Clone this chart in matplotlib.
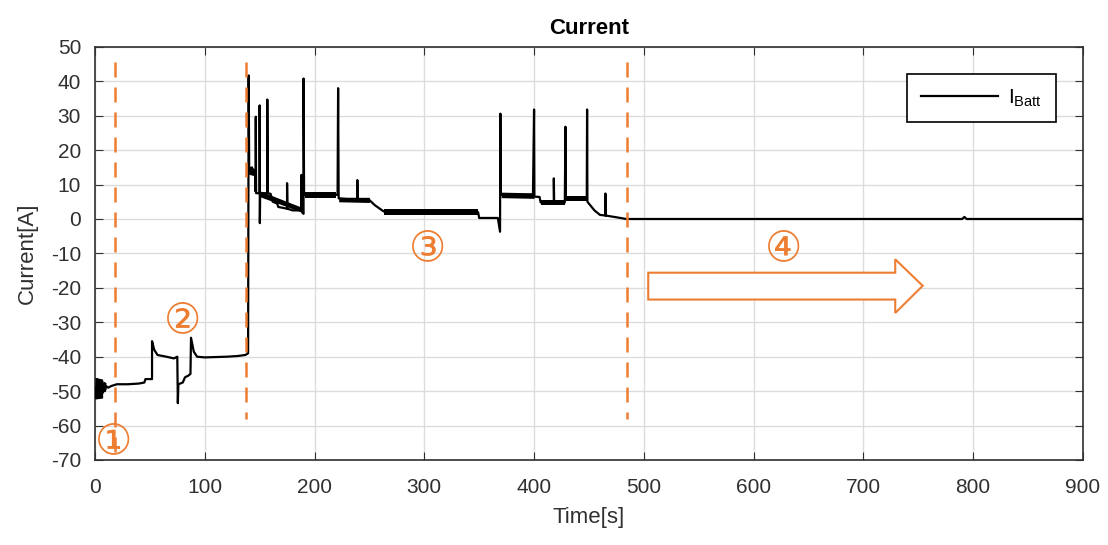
"""Battery current trace with phase markers."""

import matplotlib.pyplot as plt
from matplotlib.patches import Polygon

ORANGE = "#ED7D31"

# trace: (time [s], current [A]); repeated times are spikes
time_s = [
    0, 1, 2, 3, 4, 5, 6, 7, 8, 9, 10, 12, 15, 20, 30, 40, 45, 46, 50, 52,
    52, 54, 57, 65, 72, 75, 75.5, 76, 80, 82, 85, 87, 87.5, 90, 93, 100, 120, 130, 137, 139.5,
    140, 140.5, 143, 145, 146, 146.3, 146.5, 146.8, 150, 150, 150.2, 150.5, 157, 157, 157.3, 160,
    162, 166, 167, 175, 175, 175.3, 180, 188, 188, 188.5, 190, 190, 190.5, 200, 210, 221,
    221.5, 222, 230, 239, 239, 239.3, 250, 255, 263, 280, 300, 320, 340, 349, 350, 367,
    369, 369.3, 369.6, 380, 399, 400, 400.3, 405, 406, 418, 418, 418.3, 428, 428.6, 429, 440,
    448, 448.3, 448.6, 455, 460, 465, 465, 465.3, 475, 484, 790, 792, 794, 900,
]
current_a = [
    -49, -52, -46.5, -51.5, -47, -51, -47.5, -50.5, -48, -50, -48.5, -49, -48.5, -48, -48, -47.8, -47.5, -46.5, -46.5, -46.5,
    -35.5, -38, -39.5, -40, -40.5, -40, -53.5, -48, -47.5, -46, -45.5, -45, -34.5, -38.5, -40, -40.2, -40, -39.8, -39.5, -39,
    41.7, 14, 15, 13, 13, 8, 29.7, 7.5, 7.5, 33, -1.2, 7.5, 7.5, 34.7, 7.5, 7.3,
    5, 4.5, 3.5, 3, 10.4, 3, 2.5, 2.5, 12.8, 2, 1.5, 40.8, 7, 7, 7.3, 7,
    38, 6, 5.8, 5.8, 11.3, 5.5, 5.5, 4, 2.2, 2.2, 2.3, 2.2, 2, 2, 0.3, 0.3,
    -3.7, 30.6, 7, 7, 7, 31.8, 6.5, 6.4, 4.8, 4.8, 11.8, 4.8, 4.8, 26.8, 6, 6,
    6, 31.8, 5, 2.5, 1.2, 1, 7.4, 1, 0.5, 0, 0, 0.6, 0, 0,
]

# thickness of the noisy band where the trace is dense
band_t = [0, 7, 7, 10, 140, 146, 150, 190, 191, 220, 222, 250, 263, 349, 370, 400, 406, 428, 429, 448]
band_lo = [-52.3, -52.0, -50.5, -49.5, 13, 12.5, 6.5, 1.8, 6.2, 6.2, 5.0, 4.8, 1.3, 1.3, 6.2, 6.0, 4.2, 4.2, 5.2, 5.2]
band_hi = [-46.0, -46.5, -47.0, -47.5, 15.5, 14.5, 8.2, 3.2, 7.8, 7.8, 6.3, 6.3, 3.0, 3.0, 7.8, 7.6, 5.4, 5.4, 6.8, 6.8]
band_groups = [(0, 2), (2, 4), (4, 6), (6, 8), (8, 10), (10, 12), (12, 14), (14, 16), (16, 18), (18, 20)]

# phase separators and labels
phase_t = [18, 138, 485]
phase_bottom = [-70, -58, -58]
label_text = ["\u2460", "\u2461", "\u2462", "\u2463"]
label_t = [17, 80, 303, 627]
label_y = [-64.5, -29.5, -8.5, -8.5]

# outlined arrow of phase 4
arrow_t = [504, 729, 729, 754, 729, 729, 504]
arrow_y = [-15.6, -15.6, -11.7, -19.4, -27.3, -23.4, -23.4]

plt.rcParams["font.family"] = ["Liberation Sans", "DejaVu Sans"]
plt.rcParams["axes.unicode_minus"] = False

fig = plt.figure(figsize=(11.08, 5.45), dpi=100)
ax = fig.add_axes([0.0857, 0.156, 0.8917, 0.758])

ax.plot(time_s, current_a, color="black", lw=1.6, label=r"$\mathregular{I_{Batt}}$", zorder=3)
for a, b in band_groups:
    ax.fill_between(band_t[a:b], band_lo[a:b], band_hi[a:b], color="black", lw=0, zorder=3)

for t, yb in zip(phase_t, phase_bottom):
    ax.plot([t, t], [45.5, yb], color=ORANGE, lw=1.8, dashes=(6, 4), zorder=4)

for txt, t, y in zip(label_text, label_t, label_y):
    ax.text(t, y, txt, color=ORANGE, fontsize=30, ha="center", va="center",
            family=["DejaVu Sans"], zorder=5)

ax.add_patch(Polygon(list(zip(arrow_t, arrow_y)), closed=True, facecolor="white",
                     edgecolor=ORANGE, lw=1.5, zorder=4))

ax.set_xlim(0, 900)
ax.set_ylim(-70, 50)
ax.set_xticks(range(0, 901, 100))
ax.set_yticks(range(-70, 51, 10))
ax.grid(True, color="#dcdcdc", lw=1)
ax.set_axisbelow(True)
ax.tick_params(direction="in", top=True, right=True, length=6, labelsize=15,
               colors="#303030")
ax.tick_params(axis="x", pad=13)
ax.tick_params(axis="y", pad=10)
for s in ax.spines.values():
    s.set_color("#303030")
    s.set_linewidth(1.2)

ax.set_title("Current", fontsize=16, fontweight="bold", pad=9)
ax.set_xlabel("Time[s]", fontsize=16, labelpad=7, color="#303030")
ax.set_ylabel("Current[A]", fontsize=16, labelpad=9, color="#303030")

leg = ax.legend(loc="upper right", fontsize=15, handlelength=3.7, handletextpad=0.5,
                borderaxespad=1.3, borderpad=0.65, fancybox=False, framealpha=1,
                edgecolor="black")
leg.get_frame().set_linewidth(1.2)

fig.savefig("out.png", dpi=100)
